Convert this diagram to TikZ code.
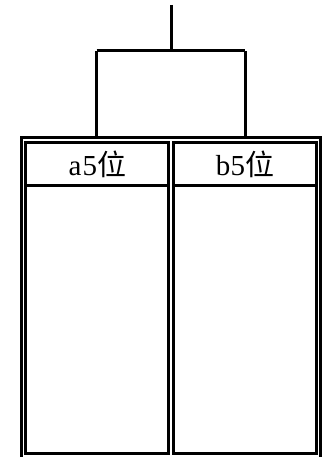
\documentclass[tikz,border=0pt]{standalone}
\usepackage{fontspec}
\setmainfont{Liberation Serif}
\newfontfamily\cjk{Noto Sans CJK SC}
\newcommand{\hw}[1]{\makebox[15pt]{#1}}
\begin{document}
\begin{tikzpicture}[x=1pt,y=-1pt,
  ln/.style={line width=3pt},
  lbl/.style={font=\fontsize{29}{29}\selectfont, inner sep=0pt}]
\useasboundingbox (0,0) rectangle (324,457);
% top connector
\coordinate (top) at (171,5);
\coordinate (j) at (171,51);
\coordinate (jl) at (96.5,51);
\coordinate (jr) at (245,51);
\draw[ln] (top) -- (j);
\draw[ln] (jl) -- (jr);
\draw[ln] (jl) -- (96.5,138);
\draw[ln] (jr) -- (245,138);
% outer frame
\draw[ln] (21.5,138) rectangle (320.5,459);
% inner boxes
\draw[ln] (25.5,142.5) rectangle (168,453);
\draw[ln] (173,142.5) rectangle (316.5,453);
\draw[ln] (25.5,185) -- (168,185);
\draw[ln] (173,185) -- (316.5,185);
\node[lbl] (a) at (97,164) {\hw{a}\hw{5}{\cjk 位}};
\node[lbl] (b) at (245,164) {\hw{b}\hw{5}{\cjk 位}};
\end{tikzpicture}
\end{document}
